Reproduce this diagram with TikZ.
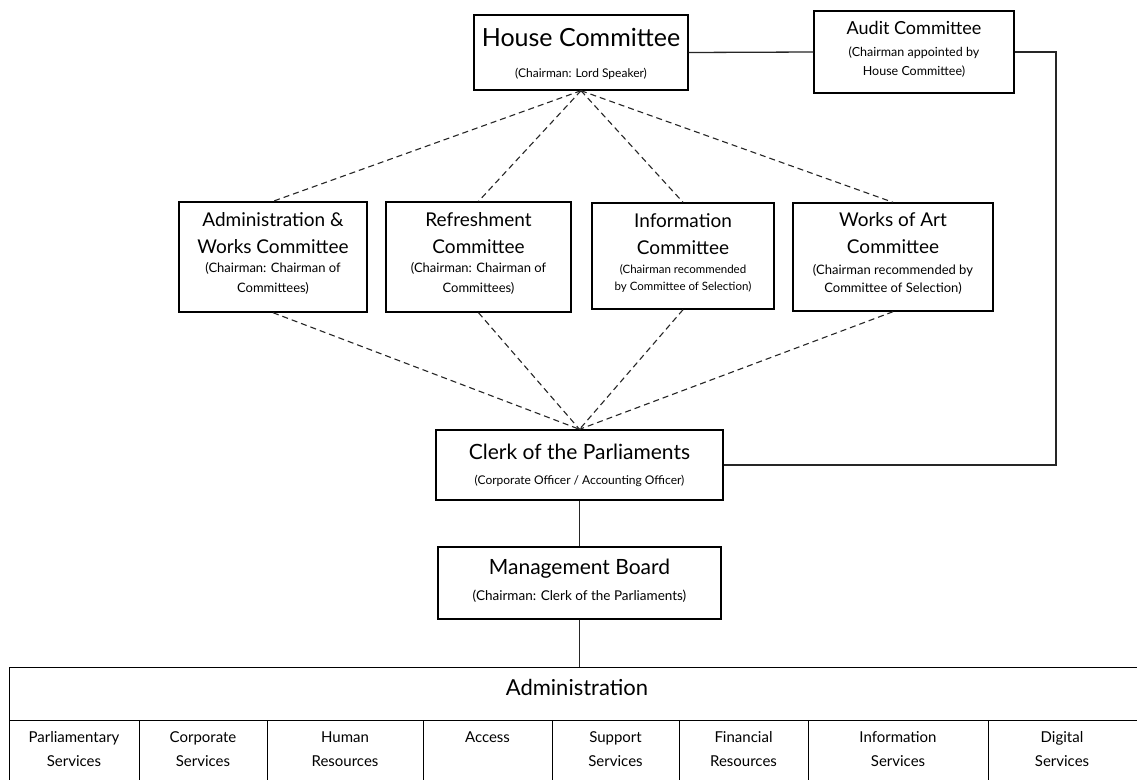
\documentclass[tikz,border=0pt]{standalone}
\usepackage{fontspec}
\setmainfont{Lato}
\begin{document}
\begin{tikzpicture}[x=1pt,y=-1pt,
  box/.style={draw=black, line width=1.4pt, fill=white, inner sep=0pt},
  txt/.style={inner sep=0pt, text height=.72em, text depth=.16em, anchor=center, text=black},
  conn/.style={line width=1.3pt, draw=black!85},
  dashlink/.style={line width=1.1pt, draw=black!85, dash pattern=on 6pt off 4pt}]
\useasboundingbox (0,0) rectangle (1137,779);
\clip (0,0) rectangle (1137,779);
\fill[white] (0,0) rectangle (1137,779);

% House committee
\node[box, minimum width=214, minimum height=75] (house) at (581,52.5) {};
\node[txt, font=\fontsize{25}{28}\selectfont] (houseT) at (581,43.5) {House Committee};
\node[txt, font=\fontsize{12}{13}\selectfont] (houseS) at (581,75) {(Chairman: Lord Speaker)};

% Audit committee
\node[box, minimum width=200, minimum height=82] (audit) at (914,52) {};
\node[txt, font=\fontsize{18}{20}\selectfont] (auditT) at (914,31.5) {Audit Committee};
\node[txt, font=\fontsize{12.5}{14}\selectfont] (auditS1) at (914,53.5) {(Chairman appointed by};
\node[txt, font=\fontsize{12.5}{14}\selectfont] (auditS2) at (914,72.5) {House Committee)};

% Middle committees
\node[box, minimum width=188, minimum height=110] (admin) at (273,257) {};
\node[txt, font=\fontsize{19}{21}\selectfont] (adminT1) at (273,223.5) {Administration \&};
\node[txt, font=\fontsize{19}{21}\selectfont] (adminT2) at (273,250.5) {Works Committee};
\node[txt, font=\fontsize{13}{15}\selectfont] (adminS1) at (273,270) {(Chairman: Chairman of};
\node[txt, font=\fontsize{13}{15}\selectfont] (adminS2) at (273,290) {Committees)};

\node[box, minimum width=185, minimum height=110] (refr) at (478.5,257) {};
\node[txt, font=\fontsize{19}{21}\selectfont] (refrT1) at (478.5,223.5) {Refreshment};
\node[txt, font=\fontsize{19}{21}\selectfont] (refrT2) at (478.5,250.5) {Committee};
\node[txt, font=\fontsize{13}{15}\selectfont] (refrS1) at (478.5,270) {(Chairman: Chairman of};
\node[txt, font=\fontsize{13}{15}\selectfont] (refrS2) at (478.5,290) {Committees)};

\node[box, minimum width=182, minimum height=106] (info) at (683,256) {};
\node[txt, font=\fontsize{19}{21}\selectfont] (infoT1) at (683,225) {Information};
\node[txt, font=\fontsize{19}{21}\selectfont] (infoT2) at (683,252) {Committee};
\node[txt, font=\fontsize{11.5}{13}\selectfont] (infoS1) at (683,271) {(Chairman recommended};
\node[txt, font=\fontsize{11.5}{13}\selectfont] (infoS2) at (683,288) {by Committee of Selection)};

\node[box, minimum width=200, minimum height=108] (works) at (893,257) {};
\node[txt, font=\fontsize{19}{21}\selectfont] (worksT1) at (893,223.5) {Works of Art};
\node[txt, font=\fontsize{19}{21}\selectfont] (worksT2) at (893,250.5) {Committee};
\node[txt, font=\fontsize{13}{15}\selectfont] (worksS1) at (893,272) {(Chairman recommended by};
\node[txt, font=\fontsize{13}{15}\selectfont] (worksS2) at (893,290) {Committee of Selection)};

% Clerk and management board
\node[box, minimum width=287, minimum height=70] (clerk) at (579.5,465) {};
\node[txt, font=\fontsize{21}{24}\selectfont] (clerkT) at (579.5,456.5) {Clerk of the Parliaments};
\node[txt, font=\fontsize{12}{13}\selectfont] (clerkS) at (579.5,481.5) {(Corporate Officer / Accounting Officer)};

\node[box, minimum width=283, minimum height=72] (mb) at (579.5,583) {};
\node[txt, font=\fontsize{21}{24}\selectfont] (mbT) at (579.5,572) {Management Board};
\node[txt, font=\fontsize{13.5}{15}\selectfont] (mbS) at (579.5,598) {(Chairman: Clerk of the Parliaments)};

% Administration table
\node[box, anchor=north west, minimum width=1150, minimum height=53] (adm) at (9,667) {};
\node[txt, font=\fontsize{22}{25}\selectfont] (admT) at (577,693) {Administration};

\node[box, anchor=north west, minimum width=130, minimum height=90] (c1) at (9,720) {};
\node[box, anchor=north west, minimum width=128, minimum height=90] (c2) at (139,720) {};
\node[box, anchor=north west, minimum width=156, minimum height=90] (c3) at (267,720) {};
\node[box, anchor=north west, minimum width=129, minimum height=90] (c4) at (423,720) {};
\node[box, anchor=north west, minimum width=127, minimum height=90] (c5) at (552,720) {};
\node[box, anchor=north west, minimum width=129, minimum height=90] (c6) at (679,720) {};
\node[box, anchor=north west, minimum width=180, minimum height=90] (c7) at (808,720) {};
\node[box, anchor=north west, minimum width=170, minimum height=90] (c8) at (988,720) {};

\tikzset{cell/.style={txt, font=\fontsize{15}{17}\selectfont}}
\node[cell] (c1a) at (74,740) {Parliamentary};
\node[cell] (c1b) at (74,764) {Services};
\node[cell] (c2a) at (203,740) {Corporate};
\node[cell] (c2b) at (203,764) {Services};
\node[cell] (c3a) at (345,740) {Human};
\node[cell] (c3b) at (345,764) {Resources};
\node[cell] (c4a) at (487.5,740) {Access};
\node[cell] (c5a) at (615.5,740) {Support};
\node[cell] (c5b) at (615.5,764) {Services};
\node[cell] (c6a) at (743.5,740) {Financial};
\node[cell] (c6b) at (743.5,764) {Resources};
\node[cell] (c7a) at (898,740) {Information};
\node[cell] (c7b) at (898,764) {Services};
\node[cell] (c8a) at (1062,740) {Digital};
\node[cell] (c8b) at (1062,764) {Services};

% Connectors
\coordinate (railtop) at (1056,52);
\draw[conn] (house.east) -- (audit.west);
\draw[conn] (audit.east) -- (railtop) |- (clerk.east);
\draw[conn] (clerk.south) -- (mb.north);
\draw[conn] (mb.south) -- (mb.south |- adm.north);

\foreach \n in {admin,refr,info,works}{
  \draw[dashlink] (house.south) -- (\n.north);
  \draw[dashlink] (\n.south) -- (clerk.north);
}
\end{tikzpicture}
\end{document}
